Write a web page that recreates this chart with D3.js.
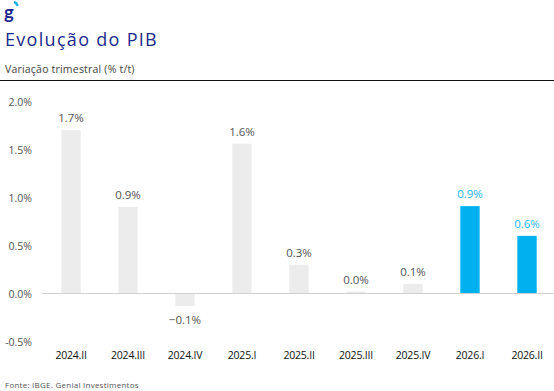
<!DOCTYPE html>
<html><head><meta charset="utf-8">
<script src="https://cdn.jsdelivr.net/npm/d3@7"></script>
<style>body{margin:0;background:#fff}svg{display:block;font-family:"Open Sans","Noto Sans",sans-serif}</style>
</head><body>
<script>
const categories = ["2024.II","2024.III","2024.IV","2025.I","2025.II","2025.III","2025.IV","2026.I","2026.II"];
const values = [1.7, 0.9, -0.13, 1.56, 0.3, 0.02, 0.1, 0.91, 0.6];
const highlighted = [false,false,false,false,false,false,false,true,true];
const yTicks = [-0.5, 0, 0.5, 1.0, 1.5, 2.0];

const W = 554, H = 391;
const FONT = "'Open Sans', 'Noto Sans', sans-serif";
const svg = d3.select("body").append("svg").attr("width", W).attr("height", H);

// logo
svg.append("text").attr("x", 4).attr("y", 19).attr("font-size", 18.5).attr("font-weight", 700)
  .attr("fill", "#1c2a8c").attr("font-family", "Lato, sans-serif").text("g");
svg.append("path").attr("d", "M14,2 A5,5 0 0 1 17.5,6").attr("stroke", "#1fb4f0").attr("stroke-width", 2.5).attr("fill", "none");

svg.append("text").attr("x", 5).attr("y", 46).attr("font-size", 18).attr("letter-spacing", 1.3).attr("fill", "#1c2a8c").attr("font-family", FONT).text("Evolução do PIB");
svg.append("text").attr("x", 5).attr("y", 73).attr("font-size", 10.5).attr("letter-spacing", 0.2).attr("fill", "#444").attr("font-family", FONT).text("Variação trimestral (% t/t)");
svg.append("line").attr("x1", 0).attr("x2", W).attr("y1", 80.5).attr("y2", 80.5).attr("stroke", "#111").attr("stroke-width", 1);

const x = d3.scaleBand().domain(categories).range([42.5, 555.5]).paddingInner(0.66).paddingOuter(0.33);
const y = d3.scaleLinear().domain([-0.5, 2.0]).range([341.5, 101.5]);

const fmtAxis = d => (d < 0 ? "-" : "") + Math.abs(d).toFixed(1) + "%";
const yAxis = svg.append("g").attr("transform", "translate(32,0)")
  .call(d3.axisLeft(y).tickValues(yTicks).tickSize(0).tickPadding(0).tickFormat(fmtAxis));
yAxis.select(".domain").remove();
yAxis.selectAll("text").attr("font-size", 10.5).attr("fill", "#555").attr("dy", "0.35em").attr("font-family", FONT);

svg.selectAll("rect.bar").data(values).enter().append("rect").attr("class", "bar")
  .attr("x", (d, i) => x(categories[i]))
  .attr("width", x.bandwidth())
  .attr("y", d => y(Math.max(0, d)))
  .attr("height", d => Math.abs(y(d) - y(0)))
  .attr("fill", (d, i) => highlighted[i] ? "#00b0ef" : "#ececec");

svg.append("line").attr("x1", 42).attr("x2", W).attr("y1", y(0)).attr("y2", y(0)).attr("stroke", "#d0d0d0").attr("stroke-width", 1.2);

const fmtVal = d => (d < 0 ? "\u2212" : "") + Math.abs(d).toFixed(1) + "%";
svg.selectAll("text.val").data(values).enter().append("text").attr("class", "val")
  .attr("x", (d, i) => x(categories[i]) + x.bandwidth() / 2)
  .attr("y", d => d >= 0 ? y(d) - 8 : y(d) + 18)
  .attr("text-anchor", "middle").attr("font-size", 11.5).attr("font-family", FONT)
  .attr("fill", (d, i) => highlighted[i] ? "#1fb4f0" : "#555")
  .text(fmtVal);

const xAxis = svg.append("g").attr("transform", "translate(0,352)")
  .call(d3.axisBottom(x).tickSize(0).tickPadding(0));
xAxis.select(".domain").remove();
xAxis.selectAll("text").attr("font-size", 10.5).attr("fill", "#111").attr("dy", "0.71em").attr("font-family", FONT).attr("letter-spacing", "-0.2");

svg.append("text").attr("x", 5).attr("y", 388).attr("font-size", 8).attr("letter-spacing", 0.25).attr("fill", "#555").attr("font-family", FONT).text("Fonte: IBGE. Genial Investimentos");
</script>
</body></html>
